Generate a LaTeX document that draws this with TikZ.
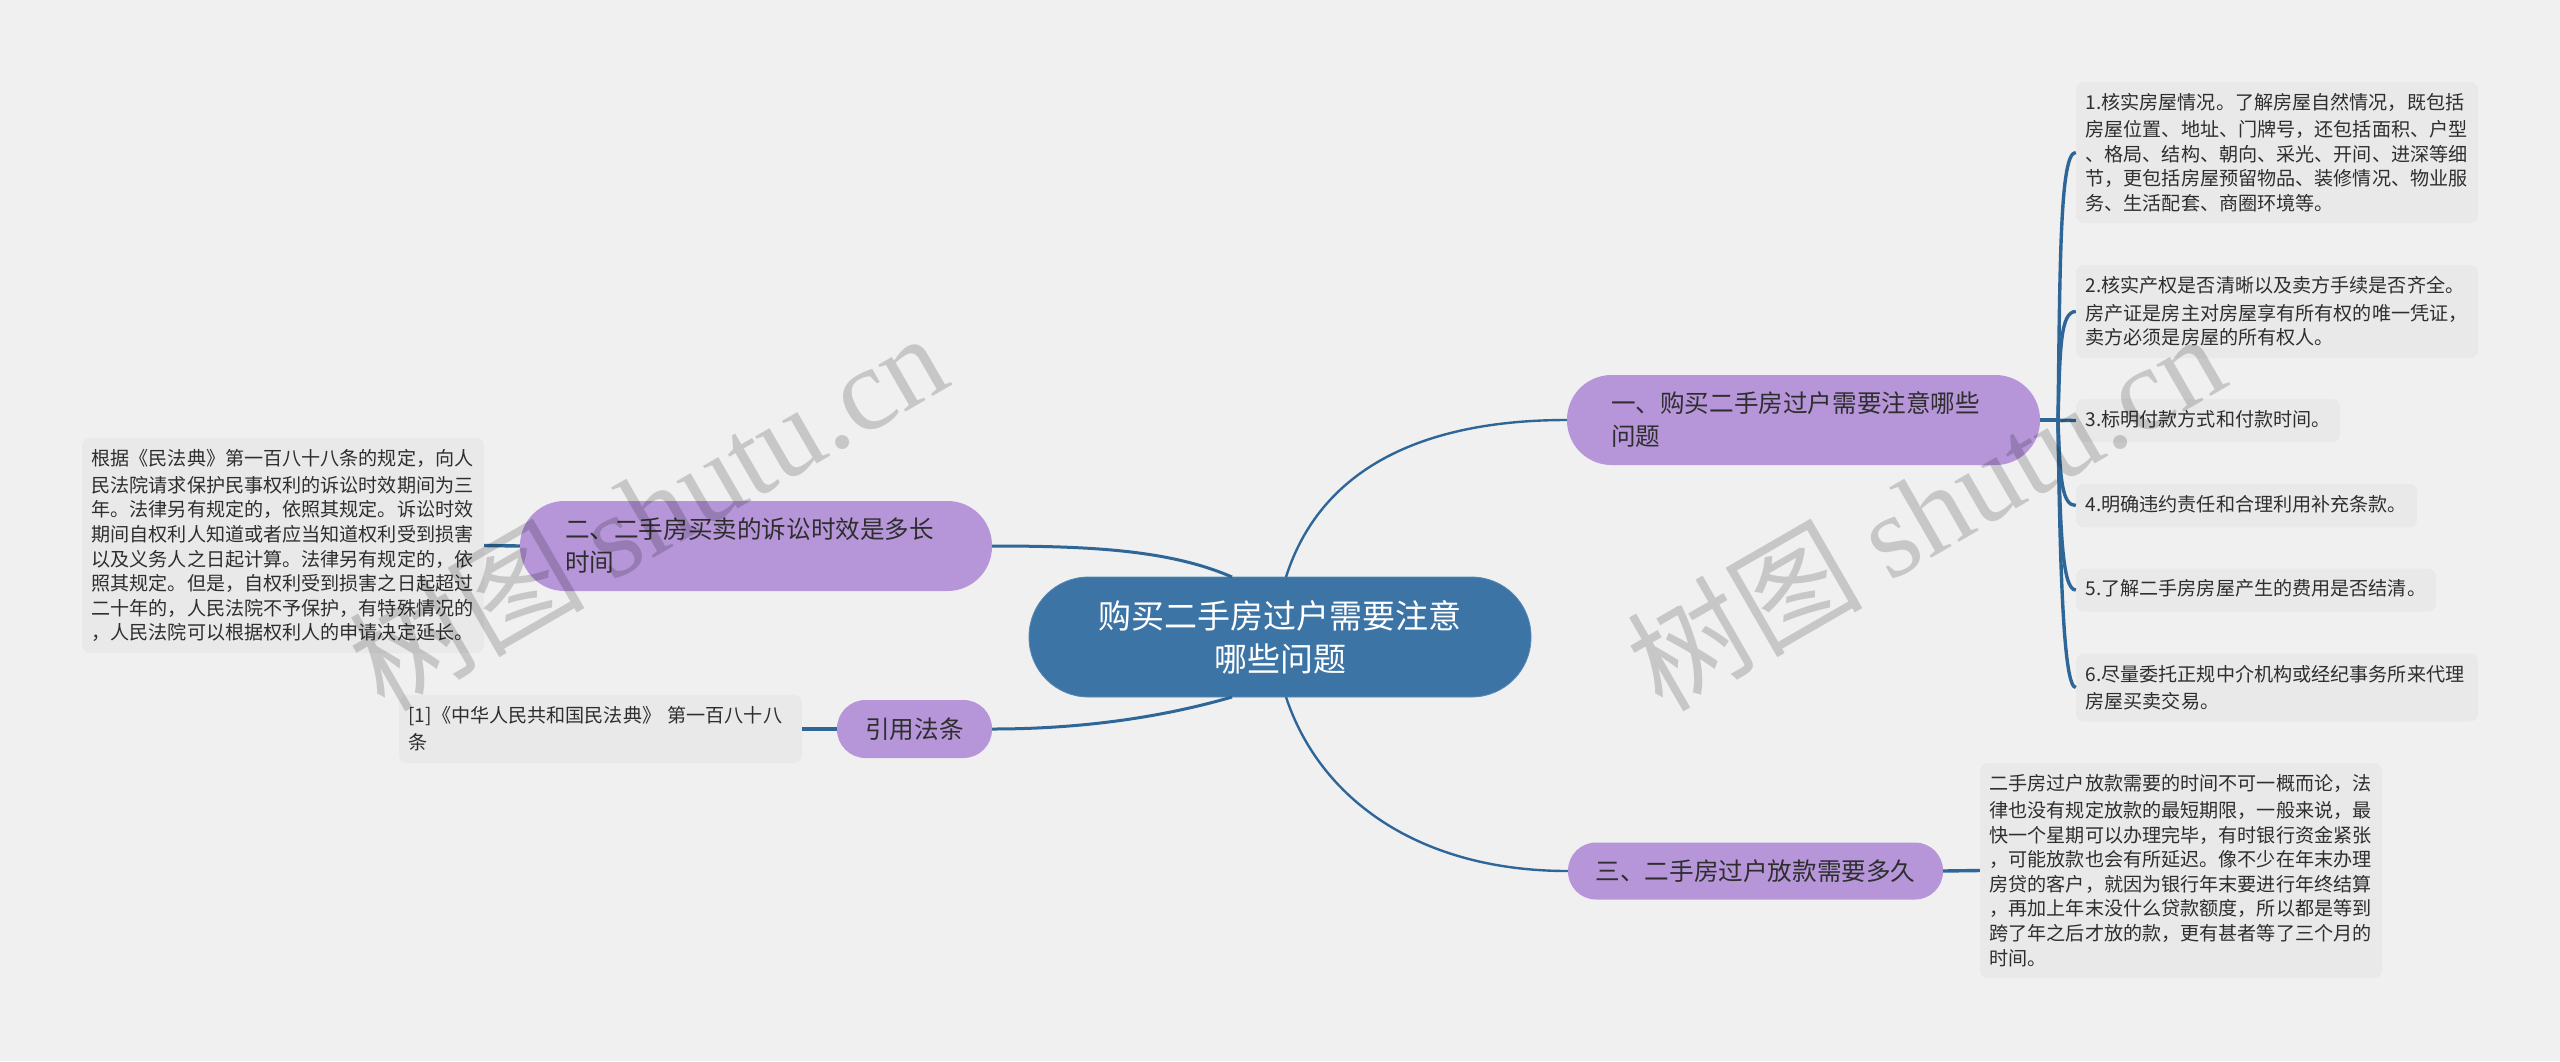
\documentclass[tikz,border=0pt]{standalone}
\usepackage{fontspec}
\setmainfont{Noto Sans CJK SC}
\newfontfamily\wmcjk[AutoFakeSlant=0.18]{Noto Sans CJK SC}
\newfontfamily\wmlat[AutoFakeSlant=0.18]{Liberation Serif}
\definecolor{bgc}{HTML}{F0F0F0}
\definecolor{leafc}{HTML}{E9E9E9}
\definecolor{purp}{HTML}{B696D9}
\definecolor{rootc}{HTML}{3C74A6}
\definecolor{linec}{HTML}{2E6797}
\definecolor{txt}{HTML}{2E2E2E}
\tikzset{
 leaf/.style={fill=leafc,rounded corners=8pt,inner sep=0pt,text=txt,align=left,anchor=center,
   font=\fontsize{19.1pt}{24.6pt}\selectfont,execute at begin node={\vspace*{2.5pt}}},
 branch/.style={fill=purp,inner sep=0pt,text=txt,align=left,anchor=center,
   font=\fontsize{24.6pt}{33pt}\selectfont},
 rootnode/.style={fill=rootc,draw=rootc!85!white,line width=0.8pt,inner sep=0pt,text=white,align=center,anchor=center,
   rounded corners=59.5pt,minimum width=502pt,minimum height=120pt,
   font=\fontsize{33pt}{43pt}\selectfont},
 conn/.style={draw=linec,line width=3.4pt},
 thin conn/.style={draw=linec,line width=2.4pt},
 mid conn/.style={draw=linec,line width=3pt},
 wm/.style={black,opacity=0.17,anchor=center,rotate=30,inner sep=0pt},
}
\begin{document}
\begin{tikzpicture}[x=1pt,y=-1pt]
\useasboundingbox[fill=bgc] (0,0) rectangle (2560,1061);

\coordinate (rtr) at (1286,577);
\coordinate (rtl) at (1232,577);
\coordinate (rbr) at (1286,697);
\coordinate (rbl) at (1232,697);
\coordinate (tr) at (2058,420);

\node[rootnode] (root) at (1280,637) {购买二手房过户需要注意\\哪些问题};

\node[branch,rounded corners=44.5pt,minimum width=473pt,minimum height=90pt,text width=385pt] (b1) at (1803.5,420) {一、购买二手房过户需要注意哪些\\问题};
\node[branch,rounded corners=44.5pt,minimum width=472pt,minimum height=90pt,text width=382pt] (b2) at (756,546) {二、二手房买卖的诉讼时效是多长\\时间};
\node[branch,rounded corners=28.5pt,minimum width=155pt,minimum height=58pt,align=center] (b4) at (914.5,729) {引用法条};
\node[branch,rounded corners=28pt,minimum width=375pt,minimum height=57pt,align=center] (b3) at (1755.5,871) {三、二手房过户放款需要多久};

\node[leaf,minimum width=402pt,minimum height=141pt,text width=383pt] (l1) at (2277,152.5) {1.核实房屋情况。了解房屋自然情况，既包括\\房屋位置、地址、门牌号，还包括面积、户型\\、格局、结构、朝向、采光、开间、进深等细\\节，更包括房屋预留物品、装修情况、物业服\\务、生活配套、商圈环境等。};
\node[leaf,minimum width=402pt,minimum height=93pt,text width=383pt] (l2) at (2277,311.5) {2.核实产权是否清晰以及卖方手续是否齐全。\\房产证是房主对房屋享有所有权的唯一凭证，\\卖方必须是房屋的所有权人。};
\node[leaf,minimum width=264pt,minimum height=43pt,text width=245pt] (l3) at (2208,420.5) {3.标明付款方式和付款时间。};
\node[leaf,minimum width=341pt,minimum height=43.5pt,text width=322pt] (l4) at (2246.5,505.5) {4.明确违约责任和合理利用补充条款。};
\node[leaf,minimum width=360pt,minimum height=43pt,text width=341pt] (l5) at (2256,590) {5.了解二手房房屋产生的费用是否结清。};
\node[leaf,minimum width=402pt,minimum height=68pt,text width=383pt] (l6) at (2277,687.5) {6.尽量委托正规中介机构或经纪事务所来代理\\房屋买卖交易。};
\node[leaf,minimum width=402pt,minimum height=215pt,text width=383pt] (l7) at (2181,870.5) {二手房过户放款需要的时间不可一概而论，法\\律也没有规定放款的最短期限，一般来说，最\\快一个星期可以办理完毕，有时银行资金紧张\\，可能放款也会有所延迟。像不少在年末办理\\房贷的客户，就因为银行年末要进行年终结算\\，再加上年末没什么贷款额度，所以都是等到\\跨了年之后才放的款，更有甚者等了三个月的\\时间。};
\node[leaf,minimum width=402pt,minimum height=215pt,text width=383pt] (l8) at (283,545.5) {根据《民法典》第一百八十八条的规定，向人\\民法院请求保护民事权利的诉讼时效期间为三\\年。法律另有规定的，依照其规定。诉讼时效\\期间自权利人知道或者应当知道权利受到损害\\以及义务人之日起计算。法律另有规定的，依\\照其规定。但是，自权利受到损害之日起超过\\二十年的，人民法院不予保护，有特殊情况的\\，人民法院可以根据权利人的申请决定延长。};
\node[leaf,minimum width=403pt,minimum height=68pt,text width=384pt] (l9) at (600.5,729) {[1]《中华人民共和国民法典》 第一百八十八\\条};

\draw[thin conn] (rtr) .. controls (1320,470) and (1420,420) .. (b1.west);
\draw[mid conn] (rtl) .. controls (1170,550) and (1090,546) .. (b2.east);
\draw[mid conn] (rbl) .. controls (1170,715) and (1090,729) .. (b4.east);
\draw[thin conn] (rbr) .. controls (1320,800) and (1420,871) .. (b3.west);
\draw[conn] (b1.east) -- (l3.west);
\draw[conn] (b1.east) -- (tr) .. controls (2060,260) and (2060,152) .. (l1.west);
\draw[conn] (b1.east) -- (tr) .. controls (2060,350) and (2060,311.5) .. (l2.west);
\draw[conn] (b1.east) -- (tr) .. controls (2060,480) and (2062,505.5) .. (l4.west);
\draw[conn] (b1.east) -- (tr) .. controls (2060,530) and (2062,590) .. (l5.west);
\draw[conn] (b1.east) -- (tr) .. controls (2060,580) and (2064,687.5) .. (l6.west);
\draw[conn] (b3.east) -- (l7.west);
\draw[conn] (l8.east) -- (b2.west);
\draw[conn] (l9.east) -- (b4.west);

\node[wm] (w1) at (647,510) {\fontsize{118pt}{118pt}\selectfont\wmcjk 树图\ \wmlat shutu.cn};
\node[wm] (w2) at (1925,510) {\fontsize{118pt}{118pt}\selectfont\wmcjk 树图\ \wmlat shutu.cn};
\end{tikzpicture}
\end{document}
